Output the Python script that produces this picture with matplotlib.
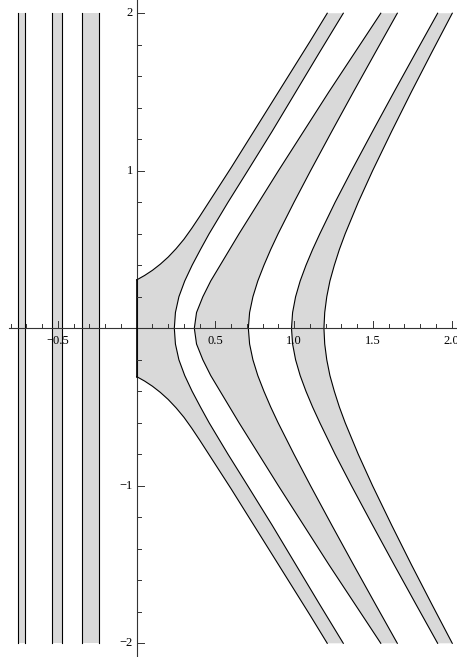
import matplotlib.pyplot as plt

# vertical strips on the left (x pairs)
strip_left = [-0.752, -0.540, -0.349]
strip_right = [-0.709, -0.476, -0.237]

# upper halves of the boundary curves (mirrored below)
cap_x = [0.0, 0.05, 0.10, 0.15, 0.20, 0.25, 0.30, 0.35, 0.40, 0.50, 0.60,
         0.70, 0.80, 0.90, 1.0, 1.10, 1.21]
cap_y = [0.307, 0.335, 0.368, 0.407, 0.452, 0.505, 0.565, 0.635, 0.71, 0.865, 1.02,
         1.18, 1.34, 1.50, 1.66, 1.82, 2.0]

curve_y = [0.0, 0.1, 0.2, 0.3, 0.4, 0.5, 0.6, 0.8, 1.0, 1.25, 1.5, 1.75, 2.0]
h1_x = [0.239, 0.246, 0.268, 0.305, 0.352, 0.405, 0.46, 0.58, 0.705, 0.86, 1.01, 1.16, 1.312]
h2_x = [0.366, 0.38, 0.42, 0.47, 0.53, 0.59, 0.65, 0.775, 0.90, 1.06, 1.22, 1.385, 1.55]
h3_x = [0.709, 0.717, 0.738, 0.769, 0.808, 0.851, 0.898, 0.999, 1.104, 1.239, 1.376, 1.515, 1.655]
h4_x = [0.983, 0.99, 1.009, 1.038, 1.075, 1.117, 1.163, 1.26, 1.364, 1.498, 1.634, 1.772, 1.911]
h5_x = [1.189, 1.194, 1.207, 1.227, 1.255, 1.287, 1.324, 1.407, 1.498, 1.619, 1.744, 1.873, 2.004]

x_major = [-0.5, 0.5, 1.0, 1.5, 2.0]
x_labels = ["\u22120.5", "0.5", "1.0", "1.5", "2.0"]
y_major = [-2, -1, 1, 2]
y_labels = ["\u22122", "\u22121", "1", "2"]

fill = "#d9d9d9"
edge = "black"
px = 1 / 157.5


def mirror(xs, ys):
    # full curve from bottom to top, symmetric about y = 0
    if ys[0] == 0:
        return xs[::-1] + xs[1:], [-v for v in ys[::-1]] + ys[1:]
    return xs[::-1] + xs, [-v for v in ys[::-1]] + ys


fig = plt.figure(figsize=(4.57, 6.57), dpi=100)
ax = fig.add_axes([0, 0, 1, 1])
ax.axis("off")
ax.set_xlim(-0.868, 2.034)
ax.set_ylim(-2.087, 2.084)

# strips
for a, b in zip(strip_left, strip_right):
    ax.fill([a, b, b, a], [-2, -2, 2, 2], color=fill, lw=0)
    ax.plot([a, a], [-2, 2], color=edge, lw=0.8)
    ax.plot([b, b], [-2, 2], color=edge, lw=0.8)

# first band: x = 0 wall, cap curve, first hyperbola
cx, cy = mirror(cap_x, cap_y)
hx, hy = mirror(h1_x, curve_y)
ax.fill(cx + hx[::-1], cy + hy[::-1], color=fill, lw=0)
ax.plot(cap_x, cap_y, color=edge, lw=0.8)
ax.plot(cap_x, [-v for v in cap_y], color=edge, lw=0.8)
ax.plot(hx, hy, color=edge, lw=0.8)

# other bands
for left, right in [(h2_x, h3_x), (h4_x, h5_x)]:
    lx, ly = mirror(left, curve_y)
    rx, ry = mirror(right, curve_y)
    ax.fill(lx + rx[::-1], ly + ry[::-1], color=fill, lw=0)
    ax.plot(lx, ly, color=edge, lw=0.8)
    ax.plot(rx, ry, color=edge, lw=0.8)

# axes through the origin
ax.plot([-0.81, 2.034], [0, 0], color="#333333", lw=0.8)
ax.plot([0, 0], [-2.087, 2.084], color="#333333", lw=0.8)
ax.plot([0, 0], [-cap_y[0], cap_y[0]], color=edge, lw=1.2)

for i in range(-8, 21):
    if i == 0:
        continue
    x = i / 10
    ln = 7 * px if i % 5 == 0 else 4 * px
    ax.plot([x, x], [0, ln], color="#333333", lw=0.7)
for i in range(-10, 11):
    if i == 0:
        continue
    y = i / 5
    ln = 7 * px if i % 5 == 0 else 4 * px
    ax.plot([0, ln], [y, y], color="#333333", lw=0.7)

for x, s in zip(x_major, x_labels):
    ax.text(x, -13 * px, s, ha="center", va="center", fontsize=9,
            family="Liberation Serif")
for y, s in zip(y_major, y_labels):
    ax.text(-4 * px, y, s, ha="right", va="center", fontsize=9,
            family="Liberation Serif")

fig.savefig("out.png", dpi=100)
